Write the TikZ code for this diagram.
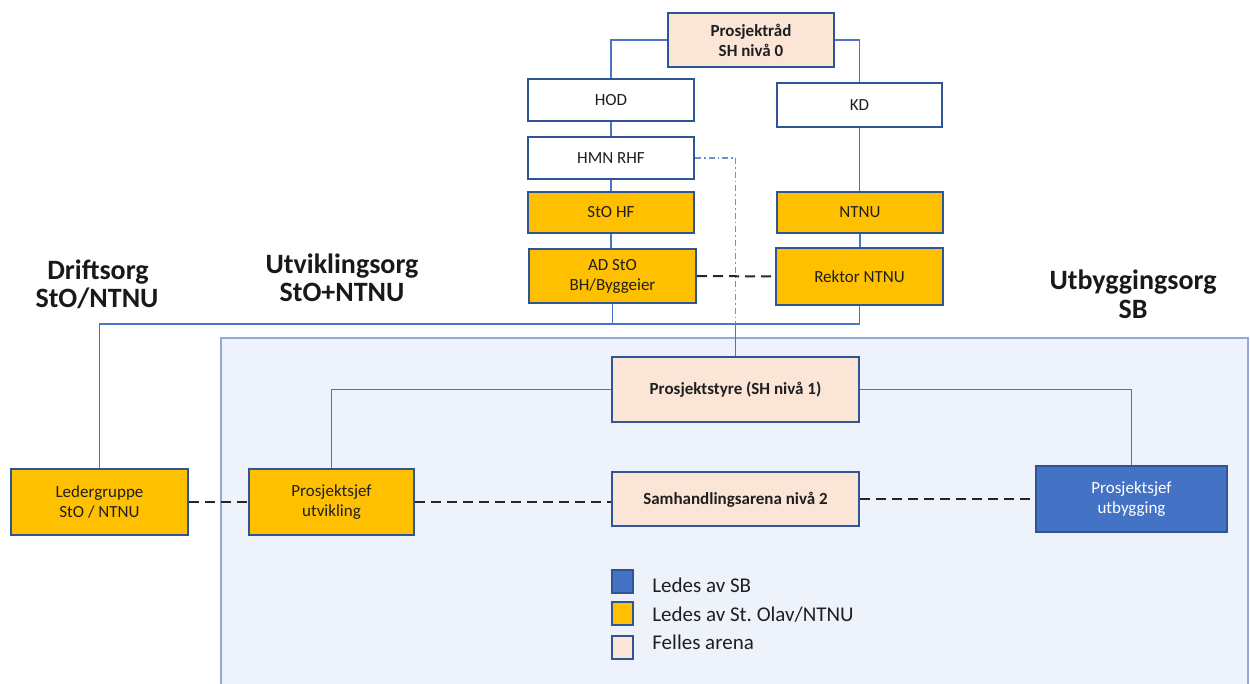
\documentclass[tikz,border=0pt]{standalone}
\usepackage{fontspec}
\setmainfont{Carlito}
\usetikzlibrary{calc}
\frenchspacing
\definecolor{bxborder}{HTML}{2F5597}
\definecolor{conn}{HTML}{4A74C4}
\definecolor{yel}{HTML}{FFC000}
\definecolor{peach}{HTML}{FBE5D6}
\definecolor{sbblue}{HTML}{4472C4}
\definecolor{areafill}{HTML}{EEF2FA}
\definecolor{areaborder}{HTML}{8FAADC}
\definecolor{txt}{HTML}{1F1F1F}
\tikzset{
  box/.style={draw=bxborder, line width=1pt, inner sep=1pt, align=center, text=txt,
    font=\fontsize{8.5}{10}\selectfont},
  whitebox/.style={box, fill=white},
  yelbox/.style={box, fill=yel},
  peachbox/.style={box, fill=peach, font=\fontsize{8.5}{10}\selectfont\bfseries},
  bluebox/.style={box, fill=sbblue, text=white},
  link/.style={draw=conn, line width=0.65pt},
  dashlink/.style={draw=black!85, line width=1pt, dash pattern=on 5pt off 3pt},
  dotlink/.style={draw=conn!80, line width=0.6pt, dash pattern=on 3pt off 1.5pt on 0.8pt off 1.5pt},
  heading/.style={anchor=base, inner sep=0pt, font=\fontsize{14}{14}\selectfont\bfseries, text=black!90},
  legtext/.style={anchor=base west, inner sep=0pt, font=\fontsize{10.5}{12}\selectfont, text=txt},
  legsq/.style={draw=bxborder, line width=0.9pt}
}
\begin{document}
\begin{tikzpicture}[x=0.5pt,y=-0.5pt]
\useasboundingbox (0,0) rectangle (1250,684);
% light blue area
\fill[areafill] (221,338) rectangle (1249,690);
\draw[areaborder, line width=0.8pt] (221,690) -- (221,338) -- (1248,338) -- (1248,690);

% boxes
\node[peachbox, minimum width=83pt, minimum height=27pt] (prad) at (751,40) {Prosjektråd\\SH nivå 0};
\node[whitebox, minimum width=83pt, minimum height=21pt] (hod) at (611,100) {HOD};
\node[whitebox, minimum width=82.5pt, minimum height=22pt] (kd) at (859.5,105) {KD};
\node[whitebox, minimum width=83pt, minimum height=21pt] (hmn) at (611,158) {HMN RHF};
\node[yelbox, minimum width=83pt, minimum height=20.5pt] (stohf) at (611,212.5) {StO HF};
\node[yelbox, minimum width=83pt, minimum height=20.5pt] (ntnu) at (860,212.5) {NTNU};
\node[yelbox, minimum width=83.5pt, minimum height=27pt] (adsto) at (612.5,276) {AD StO\\BH/Byggeier};
\node[yelbox, minimum width=83.5pt, minimum height=28.5pt] (rektor) at (859.5,276.5) {Rektor NTNU};
\node[peachbox, minimum width=123.5pt, minimum height=32.5pt] (pstyre) at (735.5,389.5) {Prosjektstyre (SH nivå 1)};
\node[peachbox, minimum width=123.5pt, minimum height=27pt] (samh) at (735.5,499.5) {Samhandlingsarena nivå 2};
\node[yelbox, minimum width=88.5pt, minimum height=33pt] (leder) at (99.5,502) {Ledergruppe\\StO / NTNU};
\node[yelbox, minimum width=82.5pt, minimum height=33pt] (putv) at (331.5,502) {Prosjektsjef\\utvikling};
\node[bluebox, minimum width=95.5pt, minimum height=33pt] (putb) at (1131.5,499.5) {Prosjektsjef\\utbygging};

% headings
\node[heading] (h1a) at (98,280) {Driftsorg};
\node[heading] (h1b) at (97,308) {StO/NTNU};
\node[heading] (h2a) at (342,274) {Utviklingsorg};
\node[heading] (h2b) at (342,302) {StO+NTNU};
\node[heading] (h3a) at (1133,290) {Utbyggingsorg};
\node[heading] (h3b) at (1133,319) {SB};

% connectors
\coordinate (bus) at (0,324);
\draw[link] (prad.west) -| (hod.north);
\draw[link] (prad.east) -| (kd.north);
\draw[link] (hod.south) -- (hmn.north);
\draw[link] (hmn.south) -- (stohf.north);
\draw[link] (stohf.south) -- (adsto.north -| stohf.south);
\draw[link] (kd.south) -- (kd.south |- ntnu.north);
\draw[link] (ntnu.south) -- (ntnu.south |- rektor.north);
\draw[link] (leder.north) |- (bus -| rektor.south) -- (rektor.south);
\draw[link] (adsto.south) -- (adsto.south |- bus);
\coordinate (dd) at (pstyre.north |- bus);
\draw[dotlink] (hmn.east) -| (dd);
\draw[link] (dd) -- (pstyre.north);
\draw[link] (pstyre.west) -| (putv.north);
\draw[link] (pstyre.east) -| (putb.north);

\draw[dashlink] (adsto.east) -- (rektor.west);
\draw[dashlink] (leder.east) -- (putv.west);
\draw[dashlink] (putv.east) -- (samh.west |- putv.east);
\draw[dashlink] (samh.east) -- (putb.west);

% legend
\draw[legsq, fill=sbblue] (612,570) rectangle (633,593);
\draw[legsq, fill=yel] (612,602) rectangle (633,625);
\draw[legsq, fill=peach] (612,636) rectangle (633,659);
\node[legtext] (l1) at (652,593) {Ledes av SB};
\node[legtext] (l2) at (652,622) {Ledes av St. Olav/NTNU};
\node[legtext] (l3) at (652,650) {Felles arena};
\end{tikzpicture}
\end{document}
